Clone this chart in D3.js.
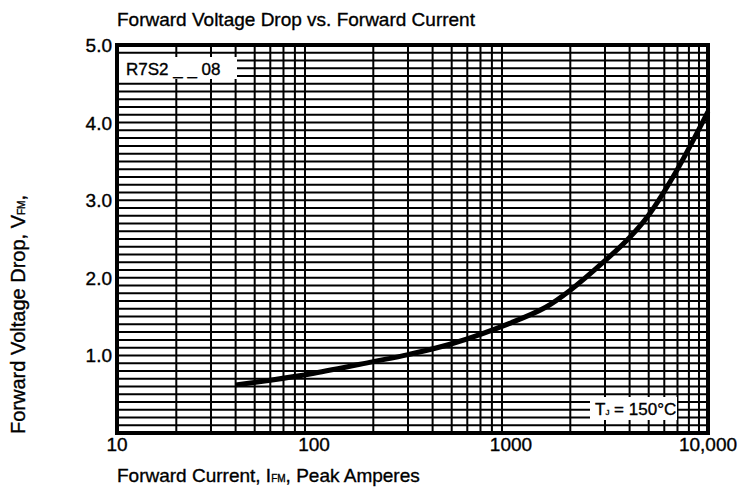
<html>
<head>
    <script src="https://d3js.org/d3.v7.min.js"></script>
    <style>
        body { margin: 0; background: #fff; }
        text { font-family: "Liberation Sans", Arial, sans-serif; fill: #000; stroke: #000; stroke-width: 0.35px; }
    </style>
</head>
<body>
<div id="chart"></div>
<script type="text/javascript">
    // curve
    var currentA = [40, 60, 100, 200, 300, 500, 1000, 1500, 2000, 3000, 4000, 5000, 7000, 10000];
    var voltageV = [0.62, 0.68, 0.77, 0.92, 1.01, 1.15, 1.42, 1.62, 1.84, 2.22, 2.52, 2.81, 3.40, 4.14];
    var xTickVals = [10, 100, 1000, 10000];
    var xTickText = ["10", "100", "1000", "10,000"];
    var yTickVals = [1, 2, 3, 4, 5];
    var yTickText = ["1.0", "2.0", "3.0", "4.0", "5.0"];

    var width = 741, height = 489;
    var margin = {top: 45, right: 33, bottom: 56, left: 117};

    var svg = d3.select("#chart").append("svg")
        .attr("width", width)
        .attr("height", height);

    var x = d3.scaleLog()
        .domain([10, 10000])
        .range([margin.left, width - margin.right]);

    var y = d3.scaleLinear()
        .domain([0, 5])
        .range([height - margin.bottom, margin.top]);

    // grid lines
    var vLines = [];
    [10, 100, 1000].forEach(function(dec) {
        for (var k = 2; k <= 9; k++) vLines.push(dec * k);
    });
    var hLines = d3.range(1, 50).map(function(i) { return i / 10; });

    var grid = svg.append("g");
    grid.selectAll(".h")
        .data(hLines)
        .enter().append("line")
        .attr("x1", x(10)).attr("x2", x(10000))
        .attr("y1", function(d) { return y(d); })
        .attr("y2", function(d) { return y(d); })
        .attr("stroke", "#000")
        .attr("stroke-width", 2);

    grid.selectAll(".v")
        .data(vLines)
        .enter().append("line")
        .attr("x1", function(d) { return x(d); })
        .attr("x2", function(d) { return x(d); })
        .attr("y1", y(0)).attr("y2", y(5))
        .attr("stroke", "#000")
        .attr("stroke-width", 2);

    // label boxes that blank the grid
    svg.append("rect")
        .attr("x", x(10) + 2).attr("y", 57)
        .attr("width", 118).attr("height", 22)
        .attr("fill", "#fff");
    svg.append("text")
        .attr("x", x(10) + 9).attr("y", 75)
        .style("font-size", "17px")
        .text("R7S2 _ _ 08");

    svg.append("rect")
        .attr("x", 590).attr("y", 397)
        .attr("width", 87).attr("height", 23)
        .attr("fill", "#fff");
    var tj = svg.append("text")
        .attr("x", 595).attr("y", 415)
        .style("font-size", "17px");
    tj.append("tspan").text("T");
    tj.append("tspan").style("font-size", "8px").text("J");
    tj.append("tspan").text(" = 150°C");

    // curve
    var line = d3.line()
        .x(function(d) { return x(d[0]); })
        .y(function(d) { return y(d[1]); })
        .curve(d3.curveCatmullRom);

    svg.append("path")
        .datum(d3.zip(currentA, voltageV))
        .attr("d", line)
        .attr("fill", "none")
        .attr("stroke", "#000")
        .attr("stroke-width", 5);

    // frame
    svg.append("rect")
        .attr("x", x(10)).attr("y", y(5))
        .attr("width", x(10000) - x(10))
        .attr("height", y(0) - y(5))
        .attr("fill", "none")
        .attr("stroke", "#000")
        .attr("stroke-width", 4);

    // tick labels
    svg.selectAll(".xt")
        .data(xTickVals)
        .enter().append("text")
        .attr("x", function(d) { return x(d); })
        .attr("y", y(0) + 18)
        .attr("text-anchor", "middle")
        .style("font-size", "19px")
        .text(function(d, i) { return xTickText[i]; });

    svg.selectAll(".yt")
        .data(yTickVals)
        .enter().append("text")
        .attr("x", x(10) - 5)
        .attr("y", function(d) { return y(d) + 7; })
        .attr("text-anchor", "end")
        .style("font-size", "19px")
        .text(function(d, i) { return yTickText[i]; });

    // titles
    svg.append("text")
        .attr("x", x(10)).attr("y", 26)
        .style("font-size", "19px")
        .text("Forward Voltage Drop vs. Forward Current");

    var xl = svg.append("text")
        .attr("x", x(10)).attr("y", 482)
        .style("font-size", "19px");
    xl.append("tspan").text("Forward Current, I");
    xl.append("tspan").style("font-size", "10px").text("FM");
    xl.append("tspan").text(", Peak Amperes");

    var yl = svg.append("text")
        .attr("transform", "translate(25,434) rotate(-90)")
        .style("font-size", "20px");
    yl.append("tspan").text("Forward Voltage Drop, V");
    yl.append("tspan").style("font-size", "10px").text("FM");
    yl.append("tspan").text(",");
</script>
</body>
</html>
